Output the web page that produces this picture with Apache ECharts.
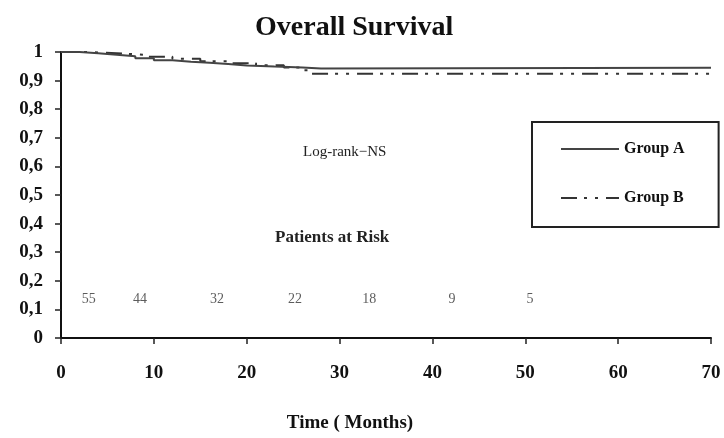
<!DOCTYPE html>
<html>
<head>
<meta charset="utf-8">
<script src="https://cdn.jsdelivr.net/npm/echarts@6/dist/echarts.min.js"></script>
<style>
  html, body { margin: 0; padding: 0; background: #fff; }
  #chart { width: 724px; height: 438px; }
</style>
</head>
<body>
<div id="chart"></div>
<script>
  // survival curves (months, proportion surviving)
  var groupA = [
    [0, 1], [2, 0.996], [4, 0.99], [6, 0.985], [8, 0.978], [10, 0.971],
    [12, 0.966], [14, 0.962], [16, 0.958], [18, 0.953], [20, 0.949],
    [23, 0.946], [26, 0.942], [28, 0.945], [70, 0.945]
  ];
  var groupB = [
    [0, 1], [3, 0.996], [6, 0.99], [9, 0.983], [12, 0.976], [15, 0.968],
    [18, 0.961], [21, 0.954], [24, 0.946], [26, 0.936], [27, 0.924], [70, 0.924]
  ];

  // patients at risk row
  var riskMonths = [3, 8.5, 16.8, 25.2, 33.2, 42.1, 50.5];
  var riskCounts = [55, 44, 32, 22, 18, 9, 5];
  var riskLevel = 0.135;

  var serif = '"Liberation Serif", "DejaVu Serif", serif';

  var chart = echarts.init(document.getElementById('chart'));

  var riskData = riskMonths.map(function (m, i) {
    return { value: [m, riskLevel], n: riskCounts[i] };
  });

  chart.setOption({
    animation: false,
    backgroundColor: '#fff',
    title: {
      text: 'Overall Survival',
      left: 250,
      top: 9,
      textStyle: { fontFamily: serif, fontSize: 28, fontWeight: 'bold', color: '#111' }
    },
    grid: { left: 61, right: 13, top: 52, bottom: 97 },
    legend: {
      data: ['Group A', 'Group B'],
      orient: 'vertical',
      left: 532,
      top: 122,
      padding: [19, 34, 21, 28],
      itemWidth: 58,
      itemHeight: 14,
      itemGap: 33,
      backgroundColor: '#fff',
      borderColor: '#222',
      borderWidth: 2,
      itemStyle: { opacity: 0 },
      textStyle: { fontFamily: serif, fontSize: 16, fontWeight: 'bold', color: '#111' }
    },
    xAxis: {
      type: 'value',
      min: 0,
      max: 70,
      interval: 10,
      name: 'Time ( Months)',
      nameLocation: 'middle',
      nameGap: 76,
      nameTextStyle: {
        fontFamily: serif, fontSize: 19, fontWeight: 'bold', color: '#111',
        padding: [0, 72, 0, 0]
      },
      axisLine: { lineStyle: { color: '#111', width: 2 } },
      axisTick: { show: true, length: 6, lineStyle: { color: '#222', width: 1.5 } },
      axisLabel: {
        margin: 26,
        fontFamily: serif, fontSize: 19, fontWeight: 'bold', color: '#111'
      },
      splitLine: { show: false }
    },
    yAxis: {
      type: 'value',
      min: 0,
      max: 1,
      interval: 0.1,
      axisLine: { show: true, lineStyle: { color: '#111', width: 2 } },
      axisTick: { show: true, length: 6, lineStyle: { color: '#222', width: 1.5 } },
      axisLabel: {
        margin: 18,
        fontFamily: serif, fontSize: 19, fontWeight: 'bold', color: '#111',
        formatter: function (v) {
          var r = Math.round(v * 10) / 10;
          if (r === 0) return '0';
          if (r === 1) return '1';
          return r.toFixed(1).replace('.', ',');
        }
      },
      splitLine: { show: false }
    },
    graphic: [
      {
        type: 'text', left: 303, top: 145,
        style: { text: 'Log-rank\u2212NS', font: '15px ' + serif, fill: '#222' }
      },
      {
        type: 'text', left: 275, top: 229,
        style: { text: 'Patients at Risk', font: 'bold 17px ' + serif, fill: '#222' }
      }
    ],
    series: [
      {
        name: 'Group A',
        type: 'line',
        step: 'end',
        symbol: 'none',
        data: groupA,
        lineStyle: { color: '#444', width: 2 },
        itemStyle: { color: '#444' },
        z: 3
      },
      {
        name: 'Group B',
        type: 'line',
        step: 'end',
        symbol: 'none',
        data: groupB,
        lineStyle: { color: '#333', width: 2, type: [16, 7, 3, 8, 3, 8] },
        itemStyle: { color: '#333' },
        z: 2
      },
      {
        name: 'risk',
        type: 'scatter',
        symbolSize: 0,
        data: riskData,
        label: {
          show: true,
          position: 'inside',
          fontFamily: serif,
          fontSize: 14,
          color: '#333',
          formatter: function (p) { return String(p.data.n); }
        },
        silent: true
      }
    ]
  });
</script>
</body>
</html>
